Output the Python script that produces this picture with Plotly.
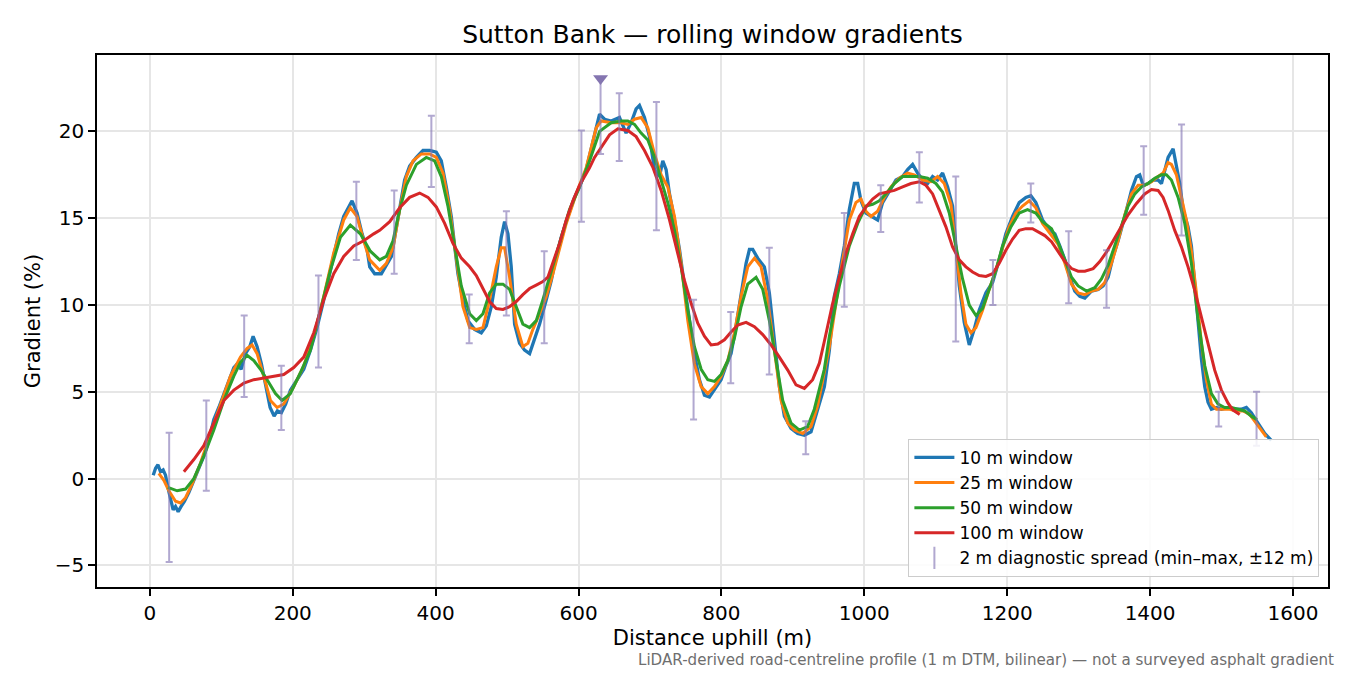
import numpy as np
import plotly.graph_objects as go

# rolling-window gradient profiles (distance uphill in m, gradient in %)
d_10 = [4.7, 8.0, 11.3, 14.9, 18.6, 21.9, 25.2, 28.9, 32.6, 35.9, 39.6, 43.8, 48.5, 54.5, 61.5, 68.5,
        75.5, 82.5, 89.5, 96.5, 103.5, 110.4, 117.5, 122.1, 127.7, 133.8, 139.8, 144.5, 150.1, 156.2,
        162.2, 168.3, 173.9, 178.5, 184.1, 190.2, 196.7, 206.0, 215.4, 224.7, 234.0, 243.4, 250.3,
        257.3, 264.3, 271.3, 278.3, 283.0, 290.0, 297.0, 304.0, 307.7, 314.7, 324.0, 331.0, 338.1,
        342.7, 349.7, 356.6, 363.6, 373.0, 382.3, 391.6, 400.9, 407.9, 414.9, 421.9, 426.6, 431.2,
        438.2, 445.2, 454.5, 463.9, 470.9, 477.9, 484.8, 491.8, 496.5, 501.2, 505.8, 510.5, 517.5,
        524.5, 531.5, 538.5, 545.5, 554.8, 561.8, 568.8, 575.8, 585.1, 594.4, 601.4, 610.7, 620.0,
        627.0, 629.4, 636.4, 645.7, 657.3, 666.6, 673.6, 680.6, 685.3, 692.3, 699.3, 706.3, 713.3,
        717.9, 722.6, 727.3, 734.3, 741.3, 748.3, 755.2, 762.2, 769.2, 776.2, 783.2, 790.2, 799.5,
        806.5, 813.5, 820.5, 827.5, 834.5, 839.2, 843.8, 850.8, 860.1, 867.1, 874.1, 881.1, 888.1,
        897.4, 906.7, 916.1, 925.4, 934.7, 944.1, 951.1, 958.0, 965.0, 972.0, 979.0, 986.0, 990.7,
        995.3, 1002.3, 1011.7, 1018.6, 1025.6, 1035.0, 1044.3, 1053.6, 1060.6, 1067.6, 1074.6,
        1081.6, 1088.6, 1095.6, 1102.6, 1109.6, 1116.6, 1123.5, 1128.2, 1132.9, 1139.9, 1146.9,
        1153.8, 1160.8, 1170.2, 1179.5, 1188.8, 1198.1, 1207.5, 1216.8, 1226.1, 1233.1, 1240.1,
        1249.4, 1259.7, 1266.7, 1273.7, 1280.7, 1287.6, 1294.6, 1301.6, 1308.6, 1317.9, 1327.3,
        1334.3, 1341.3, 1348.3, 1355.2, 1364.6, 1373.9, 1380.9, 1385.5, 1390.2, 1397.2, 1404.2,
        1411.2, 1415.9, 1420.5, 1425.2, 1432.2, 1436.8, 1441.5, 1446.2, 1453.1, 1457.8, 1462.5,
        1467.1, 1471.8, 1476.5, 1481.1, 1485.8, 1492.8, 1499.8, 1509.1, 1518.4, 1527.7, 1534.7,
        1541.7, 1551.0, 1560.4, 1569.7]
g_10 = [0.2, 0.6, 0.8, 0.4, 0.5, 0.2, -0.5, -1.2, -1.8, -1.6, -1.9, -1.6, -1.3, -0.8, -0.1, 0.5,
        1.3, 2.2, 3.4, 4.1, 4.9, 5.7, 6.4, 6.6, 6.3, 7.2, 7.6, 8.2, 7.6, 6.6,
        5.3, 4.1, 3.6, 3.9, 3.8, 4.3, 5.1, 5.7, 6.3, 7.4, 8.7, 10.3, 11.6,
        13.0, 14.1, 15.1, 15.7, 16.0, 15.3, 14.1, 13.2, 12.2, 11.8, 11.8, 12.3, 12.8,
        13.9, 15.6, 17.2, 18.0, 18.5, 18.9, 18.9, 18.8, 18.3, 16.8, 15.1, 13.4, 11.8,
        10.3, 9.1, 8.6, 8.4, 8.8, 9.9, 11.6, 13.9, 14.8, 14.1, 12.2, 8.9, 7.8,
        7.4, 7.2, 8.0, 8.9, 10.3, 11.4, 12.8, 13.9, 15.1, 16.2, 16.8, 17.8, 19.4,
        20.5, 21.0, 20.7, 20.6, 20.8, 19.9, 20.5, 21.3, 21.5, 20.8, 19.7, 17.8, 17.4,
        18.3, 17.8, 16.4, 14.9, 13.2, 11.1, 9.0, 7.2, 5.7, 4.8, 4.7, 5.1, 5.7,
        6.5, 7.2, 8.8, 10.7, 12.4, 13.2, 13.2, 12.7, 12.2, 10.7, 7.8, 5.3, 3.6,
        2.9, 2.6, 2.5, 2.7, 4.0, 5.3, 7.4, 10.5, 11.8, 13.4, 15.5, 17.0, 17.0,
        16.0, 15.3, 15.1, 14.9, 15.9, 16.6, 17.2, 17.4, 17.8, 18.1, 17.6,
        17.2, 17.0, 17.4, 17.2, 17.6, 16.8, 15.7, 13.4, 11.1, 9.0, 7.7,
        8.6, 9.7, 10.7, 11.3, 12.6, 14.1, 15.1, 15.9, 16.2, 16.3, 15.9,
        14.9, 14.3, 14.1, 13.4, 12.6, 11.6, 10.8, 10.5, 10.4, 10.8, 10.9,
        11.1, 11.6, 12.8, 13.7, 15.1, 16.6, 17.4, 17.5, 16.9, 17.0, 17.2,
        17.2, 17.0, 17.8, 18.5, 19.0, 18.1, 17.0, 15.5, 14.5, 13.4, 11.1,
        8.8, 6.9, 5.3, 4.4, 4.0, 4.1, 4.0, 4.1, 4.0, 4.0, 4.1,
        3.8, 3.2, 2.6, 2.2]

d_25 = [12.5, 19.6, 26.6, 35.9, 42.9, 49.9, 59.2, 70.9, 84.8, 98.8, 112.8, 126.8, 136.1, 143.1,
        150.1, 159.4, 168.8, 178.1, 187.4, 201.4, 215.4, 229.4, 243.4, 257.3, 271.3, 280.6, 290.0,
        299.3, 307.7, 321.7, 331.0, 340.3, 349.7, 359.0, 368.3, 380.0, 391.6, 400.9, 410.3, 419.6,
        428.9, 438.2, 447.6, 456.9, 466.2, 475.5, 484.8, 491.8, 496.5, 503.5, 512.8, 522.1, 529.1,
        536.1, 545.5, 554.8, 564.1, 573.4, 582.8, 596.7, 610.7, 624.7, 631.7, 645.7, 659.7, 669.0,
        678.3, 687.6, 697.0, 706.3, 715.6, 724.9, 734.3, 743.6, 752.9, 762.2, 771.6, 780.9, 790.2,
        799.5, 808.9, 818.2, 827.5, 836.8, 846.2, 855.5, 864.8, 874.1, 883.5, 892.8, 902.1, 913.8,
        925.4, 934.7, 951.1, 965.0, 979.0, 988.3, 995.3, 1002.3, 1009.3, 1018.6, 1028.0, 1037.3,
        1049.0, 1060.6, 1069.9, 1081.6, 1093.2, 1102.6, 1111.9, 1121.2, 1128.2, 1135.2, 1142.2,
        1149.2, 1156.2, 1165.5, 1174.8, 1184.1, 1193.5, 1202.8, 1212.1, 1221.4, 1230.8, 1240.1,
        1249.4, 1258.7, 1271.3, 1280.7, 1290.0, 1299.3, 1308.6, 1317.9, 1327.3, 1336.6, 1345.9,
        1355.2, 1364.6, 1373.9, 1383.2, 1392.5, 1401.9, 1411.2, 1418.2, 1425.2, 1429.8, 1436.8,
        1443.8, 1450.8, 1457.8, 1464.8, 1471.8, 1478.8, 1485.8, 1492.8, 1502.1, 1511.4, 1520.7,
        1530.1, 1539.4, 1548.7, 1555.7, 1562.6]
g_25 = [0.3, -0.1, -0.7, -1.3, -1.4, -1.1, -0.3, 0.9, 2.6, 4.3, 5.9, 7.0, 7.5, 7.7,
        7.2, 5.9, 4.5, 4.1, 4.3, 5.3, 6.5, 8.2, 10.5, 13.0, 14.9, 15.6, 15.1,
        13.7, 12.6, 12.0, 12.4, 13.3, 15.5, 17.4, 18.3, 18.7, 18.7, 18.5, 17.6, 15.5,
        12.6, 9.9, 8.7, 8.6, 8.7, 10.3, 12.2, 13.3, 13.3, 11.6, 8.9, 7.6, 7.8,
        8.6, 9.5, 10.5, 11.8, 13.3, 14.7, 16.4, 17.9, 20.2, 20.6, 20.5, 20.5, 20.4,
        20.7, 20.8, 20.2, 18.7, 17.5, 16.8, 15.1, 12.4, 9.1, 6.6, 5.3, 4.9, 5.3,
        5.9, 6.8, 8.4, 10.5, 12.2, 12.7, 12.2, 10.3, 7.4, 4.5, 3.2, 2.8, 2.6,
        3.0, 4.2, 7.6, 11.4, 14.9, 15.9, 16.1, 15.4, 15.1, 15.4, 16.2, 16.8,
        17.3, 17.6, 17.5, 17.2, 17.1, 17.4, 17.0, 15.8, 13.3, 10.7, 8.9,
        8.4, 8.7, 9.7, 10.9, 12.0, 13.3, 14.5, 15.3, 15.7, 16.0, 15.6,
        14.7, 14.2, 13.5, 12.4, 11.2, 10.7, 10.6, 10.8, 10.9, 11.3, 12.4,
        13.7, 15.2, 16.4, 16.9, 16.9, 17.1, 17.4, 17.6, 18.2, 18.1, 17.5,
        16.2, 14.9, 13.1, 10.7, 7.8, 5.7, 4.3, 4.0, 4.0, 4.0, 3.9,
        3.9, 3.7, 3.2, 2.8, 2.4]

d_50 = [25.2, 38.2, 49.9, 61.5, 75.5, 89.5, 103.5, 117.5, 126.8, 136.1, 145.5, 154.8, 164.1, 175.8,
        185.1, 196.7, 210.7, 224.7, 238.7, 252.7, 266.7, 280.6, 294.6, 308.6, 321.7, 331.0, 340.3,
        349.7, 359.0, 373.0, 386.9, 398.6, 407.9, 417.2, 426.6, 435.9, 447.6, 456.9, 466.2, 475.5,
        484.8, 494.2, 503.5, 512.8, 522.1, 531.5, 540.8, 550.1, 559.4, 568.8, 578.1, 587.4, 601.4,
        615.4, 629.4, 645.7, 659.7, 669.0, 678.3, 687.6, 697.0, 706.3, 715.6, 724.9, 734.3, 743.6,
        752.9, 762.2, 771.6, 780.9, 790.2, 799.5, 808.9, 818.2, 827.5, 836.8, 848.5, 857.8, 867.1,
        876.5, 885.8, 897.4, 909.1, 920.7, 930.0, 944.0, 951.1, 965.0, 979.0, 990.7, 1002.3, 1011.7,
        1021.0, 1030.3, 1042.0, 1053.6, 1065.3, 1076.9, 1088.6, 1100.2, 1109.6, 1118.9, 1128.2,
        1137.5, 1146.9, 1156.2, 1165.5, 1174.8, 1184.1, 1193.5, 1205.1, 1216.8, 1228.4, 1240.1,
        1249.4, 1262.0, 1271.3, 1280.7, 1290.0, 1299.3, 1311.0, 1322.6, 1331.9, 1341.3, 1350.6,
        1359.9, 1369.2, 1378.6, 1387.9, 1397.2, 1406.5, 1415.9, 1422.8, 1429.8, 1439.2, 1448.5,
        1457.8, 1467.1, 1476.5, 1485.8, 1495.1, 1504.4, 1513.8, 1523.1, 1532.4, 1541.7, 1549.6]
g_50 = [-0.5, -0.7, -0.6, 0.0, 1.3, 2.8, 4.5, 5.9, 6.7, 7.1, 6.8, 6.3, 5.7, 4.9,
        4.5, 4.9, 6.1, 7.4, 9.7, 12.0, 13.9, 14.6, 14.1, 13.1, 12.6, 12.8, 13.7,
        15.5, 16.9, 18.1, 18.5, 18.3, 17.4, 15.7, 13.4, 11.1, 9.5, 9.1, 9.5, 10.7,
        11.2, 11.2, 10.9, 9.9, 8.9, 8.7, 9.1, 10.3, 11.6, 13.0, 14.3, 15.5, 16.8,
        18.3, 20.0, 20.5, 20.6, 20.6, 20.4, 19.9, 19.5, 18.5, 17.2, 15.9, 14.3, 12.2,
        9.7, 7.6, 6.3, 5.7, 5.6, 6.0, 6.8, 8.1, 9.9, 11.2, 11.6, 10.9, 9.1,
        6.7, 4.5, 3.2, 2.8, 3.0, 4.0, 6.3, 8.2, 11.1, 13.4, 14.7, 15.7, 15.8,
        16.0, 16.4, 17.0, 17.4, 17.4, 17.4, 17.3, 17.0, 16.5, 15.3, 13.4,
        11.5, 10.0, 9.4, 9.8, 10.9, 12.0, 13.4, 14.5, 15.3, 15.5, 15.3,
        14.8, 14.4, 13.6, 12.6, 11.6, 11.1, 10.8, 11.0, 11.5, 12.3, 13.4,
        14.5, 15.7, 16.4, 16.8, 17.0, 17.3, 17.5, 17.5, 17.2, 16.2, 14.7,
        12.4, 9.2, 6.5, 4.9, 4.3, 4.1, 4.1, 4.0, 3.9, 3.6, 3.4]

d_100 = [47.6, 61.5, 75.5, 89.5, 103.5, 117.5, 131.5, 145.5, 159.4, 173.4, 187.4, 201.4, 215.4,
         229.4, 243.4, 257.3, 271.3, 285.3, 299.3, 313.3, 321.7, 335.7, 349.7, 363.6, 377.6, 389.3,
         400.9, 412.6, 424.2, 435.9, 447.6, 456.9, 466.2, 475.5, 484.8, 494.2, 503.5, 512.8, 522.1,
         531.5, 540.8, 550.1, 557.1, 564.1, 573.4, 582.8, 592.1, 601.4, 615.4, 622.4, 631.7, 643.4,
         655.0, 669.0, 680.6, 692.3, 703.9, 715.6, 727.3, 738.9, 748.3, 757.6, 766.9, 776.2, 785.5,
         794.9, 804.2, 813.5, 822.8, 834.5, 846.2, 857.8, 869.5, 881.1, 892.8, 904.4, 916.1, 927.7,
         937.1, 944.0, 955.7, 965.0, 974.4, 983.7, 993.0, 1002.3, 1011.7, 1021.0, 1030.3, 1042.0,
         1053.6, 1065.3, 1076.9, 1086.2, 1095.6, 1104.9, 1114.2, 1123.5, 1132.9, 1142.2, 1151.5,
         1160.8, 1170.2, 1179.5, 1188.8, 1198.1, 1207.5, 1216.8, 1226.1, 1235.4, 1244.7, 1252.7,
         1262.0, 1271.3, 1280.7, 1290.0, 1299.3, 1308.6, 1320.3, 1329.6, 1338.9, 1348.3, 1357.6,
         1369.2, 1380.9, 1392.5, 1401.9, 1411.2, 1418.2, 1425.2, 1434.5, 1443.8, 1453.1, 1462.5,
         1471.8, 1481.1, 1490.4, 1499.8, 1509.1, 1516.1, 1525.4]
g_100 = [0.4, 1.1, 1.9, 3.2, 4.5, 5.1, 5.5, 5.7, 5.8, 5.9, 6.0, 6.4, 7.0,
         8.4, 10.3, 11.8, 12.8, 13.4, 13.7, 14.1, 14.3, 14.8, 15.6, 16.2, 16.45, 16.2,
         15.65, 14.7, 13.55, 12.7, 12.2, 11.7, 10.9, 10.2, 9.8, 9.75, 9.9, 10.2, 10.6,
         10.95, 11.15, 11.35, 11.6, 12.4, 13.55, 14.9, 16.0, 16.9, 17.9, 18.5, 19.1, 19.8,
         20.15, 20.05, 19.7, 18.9, 17.95, 16.6, 14.9, 13.0, 11.4, 10.1, 8.95, 8.2, 7.7,
         7.75, 8.0, 8.45, 8.85, 9.0, 8.75, 8.3, 7.7, 7.0, 6.25, 5.4, 5.2, 5.7,
         6.65, 7.9, 10.1, 11.6, 13.0, 14.1, 15.1, 15.65, 16.1, 16.4, 16.5, 16.6,
         16.8, 17.0, 17.1, 16.9, 16.4, 15.45, 14.5, 13.35, 12.6, 12.2, 11.9,
         11.7, 11.65, 11.8, 12.4, 13.15, 13.8, 14.3, 14.4, 14.4, 14.2, 14.0,
         13.65, 13.05, 12.5, 12.1, 11.95, 11.95, 12.1, 12.5, 13.05, 13.7, 14.4,
         15.2, 15.85, 16.4, 16.65, 16.6, 16.2, 15.45, 14.3, 13.35, 12.2, 10.85,
         9.3, 7.8, 6.25, 5.1, 4.35, 3.95, 3.7]

# 2 m diagnostic spread (min-max within +-12 m), sampled along the climb
spread_d = [27, 79, 132, 184, 236, 289, 342, 394, 447, 499, 552, 604, 657, 709, 761,
            813, 867, 918, 972, 1023, 1077, 1128, 1180, 1233, 1286, 1339, 1391, 1444, 1496, 1549]
spread_lo = [-4.8, -0.7, 4.7, 2.8, 6.4, 12.6, 11.8, 16.8, 7.8, 9.4, 7.8, 14.8, 18.3, 14.3, 3.4,
             5.5, 6.0, 1.4, 9.9, 14.2, 15.9, 7.9, 10.0, 14.75, 10.1, 9.85, 15.2, 14.0, 3.0, 1.9]
spread_hi = [2.65, 4.5, 9.4, 6.5, 11.7, 17.1, 16.6, 20.9, 10.6, 15.4, 13.1, 20.05, 22.2, 21.7, 10.3,
             9.6, 13.3, 3.3, 15.3, 16.9, 18.8, 17.4, 12.6, 17.0, 14.25, 13.15, 19.15, 20.4, 5.0, 5.0]

# steepest 2 m point
steep_d = [630.8]
steep_lo = [18.7]
steep_hi = [23.05]

windows = [
    ("10 m window", d_10, g_10, "#1f77b4", 3.3),
    ("25 m window", d_25, g_25, "#ff7f0e", 3),
    ("50 m window", d_50, g_50, "#2ca02c", 3),
    ("100 m window", d_100, g_100, "#d62728", 3),
]

spread_color = "rgba(129,114,179,0.62)"
marker_color = "#8475b0"

fig = go.Figure()

for name, d, g, color, lw in windows:
    fig.add_trace(go.Scatter(x=d, y=g, mode="lines", name=name,
                             line=dict(color=color, width=lw)))

lo = np.array(spread_lo)
hi = np.array(spread_hi)
fig.add_trace(go.Scatter(
    x=spread_d, y=hi, mode="markers", showlegend=False, hoverinfo="skip",
    marker=dict(size=1, color="rgba(0,0,0,0)"),
    error_y=dict(type="data", symmetric=False, array=np.zeros_like(hi),
                 arrayminus=hi - lo, color=spread_color, thickness=2, width=3.5),
))

s_lo = np.array(steep_lo)
s_hi = np.array(steep_hi)
fig.add_trace(go.Scatter(
    x=steep_d, y=s_hi, mode="markers", showlegend=False,
    marker=dict(symbol="triangle-down", size=13, color=marker_color),
    error_y=dict(type="data", symmetric=False, array=np.zeros_like(s_hi),
                 arrayminus=s_hi - s_lo, color=spread_color, thickness=2, width=3.5),
))

# legend entry for the error bars
fig.add_trace(go.Scatter(
    x=[None], y=[None], mode="markers", name="2 m diagnostic spread (min–max, ±12 m)",
    marker=dict(symbol="line-ns-open", size=17, color=spread_color,
                line=dict(width=2, color=spread_color)),
))

axis_style = dict(
    showline=True, linecolor="black", linewidth=1.6, mirror=True,
    ticks="outside", ticklen=7, tickwidth=1.6, tickcolor="black",
    showgrid=True, gridcolor="#e6e6e6", gridwidth=1.5, zeroline=False,
    tickfont=dict(size=20, color="black"),
)

fig.update_xaxes(range=[-74, 1649], tickvals=list(range(0, 1601, 200)),
                 title=dict(text="Distance uphill (m)", font=dict(size=21), standoff=7),
                 **axis_style)
fig.update_yaxes(range=[-6.24, 24.4], tickvals=[-5, 0, 5, 10, 15, 20],
                 title=dict(text="Gradient (%)", font=dict(size=21), standoff=8),
                 **axis_style)

# the page adds an 8 px body margin, so the figure is sized to fit inside the window
fig.update_layout(
    width=1342, height=667,
    margin=dict(l=89, r=22, t=47, b=88),
    paper_bgcolor="white", plot_bgcolor="white",
    font=dict(family="DejaVu Sans", color="black"),
    title=dict(text="Sutton Bank — rolling window gradients", x=0.5, xref="paper",
               y=0.961, yanchor="middle", font=dict(size=25)),
    legend=dict(x=0.993, y=0.019, xanchor="right", yanchor="bottom",
                bgcolor="rgba(255,255,255,0.85)", bordercolor="#cccccc", borderwidth=1,
                font=dict(size=17), tracegroupgap=0, itemwidth=40),
    showlegend=True,
)

fig.add_annotation(
    text="LiDAR-derived road-centreline profile (1 m DTM, bilinear) — not a surveyed asphalt gradient",
    xref="paper", yref="paper", x=1.0065, y=-0.137, xanchor="right", yanchor="middle",
    showarrow=False, font=dict(size=15.1, color="#6e6e6e"),
)

fig.write_html("out.html")
